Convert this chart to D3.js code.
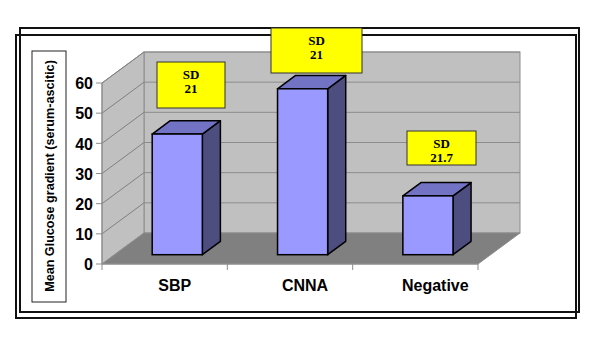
<!DOCTYPE html>
<html>
<head>
<meta charset="utf-8">
<script src="https://d3js.org/d3.v7.min.js"></script>
<style>
  body { margin: 0; background: #fff; }
  svg { display: block; }
</style>
</head>
<body>
<script>
var categories = ["SBP", "CNNA", "Negative"];
var values = [40, 55, 19.5];
var sdLabels = ["21", "21", "21.7"];
var yTicks = [0, 10, 20, 30, 40, 50, 60];
var yTitle = "Mean Glucose gradient (serum-ascitic)";

// where the SD call-outs sit (x, y, w, h)
var sdBoxes = [[157, 62, 68, 46], [271, 28, 91, 45], [407, 131, 69, 34]];

var w = 600, h = 340;
var DX = 42, DY = 31;          // full depth offset
var z0 = 0.3, zd = 0.43;       // bar depth start / depth size

var svg = d3.select("body").append("svg").attr("width", w).attr("height", h);

var x = d3.scaleBand().domain(categories).range([102, 478]).padding(0);
var y = d3.scaleLinear().domain([0, 60]).range([264, 83]);

// frames
svg.append("rect").attr("x", 20).attr("y", 28).attr("width", 559).attr("height", 284)
    .attr("fill", "none").attr("stroke", "#111").attr("stroke-width", 2);
svg.append("rect").attr("x", 16).attr("y", 35).attr("width", 560).attr("height", 283)
    .attr("fill", "none").attr("stroke", "#111").attr("stroke-width", 2);

var x0 = x.range()[0], x1 = x.range()[1];
var ymin = y(0), ymax = y(60);

// back wall
svg.append("rect").attr("x", x0 + DX).attr("y", ymax - DY)
    .attr("width", x1 - x0).attr("height", ymin - ymax)
    .attr("fill", "#c0c0c0").attr("stroke", "#8c8c8c");
// left wall
svg.append("polygon")
    .attr("points", [[x0, ymin], [x0, ymax], [x0 + DX, ymax - DY], [x0 + DX, ymin - DY]].join(" "))
    .attr("fill", "#c0c0c0").attr("stroke", "#8c8c8c");
// floor
svg.append("polygon")
    .attr("points", [[x0, ymin], [x1, ymin], [x1 + DX, ymin - DY], [x0 + DX, ymin - DY]].join(" "))
    .attr("fill", "#808080").attr("stroke", "#8c8c8c");

// gridlines
var grid = yTicks.filter(function(t) { return t > 0; });
svg.selectAll(".gl").data(grid).enter().append("line")
    .attr("x1", x0).attr("y1", function(d) { return y(d); })
    .attr("x2", x0 + DX).attr("y2", function(d) { return y(d) - DY; })
    .attr("stroke", "#808080").attr("stroke-width", 1);
svg.selectAll(".gb").data(grid).enter().append("line")
    .attr("x1", x0 + DX).attr("y1", function(d) { return y(d) - DY; })
    .attr("x2", x1 + DX).attr("y2", function(d) { return y(d) - DY; })
    .attr("stroke", "#8c8c8c").attr("stroke-width", 1);

// y axis
svg.append("line").attr("x1", x0).attr("x2", x0).attr("y1", ymin).attr("y2", ymax)
    .attr("stroke", "#8c8c8c");
svg.selectAll(".yt").data(yTicks).enter().append("line")
    .attr("x1", x0 - 6).attr("x2", x0)
    .attr("y1", function(d) { return y(d); }).attr("y2", function(d) { return y(d); })
    .attr("stroke", "#8c8c8c");
svg.selectAll(".yl").data(yTicks).enter().append("text")
    .attr("x", 93).attr("y", function(d) { return y(d) + 2; })
    .attr("text-anchor", "end").attr("dominant-baseline", "middle")
    .style("font", "bold 16px 'Liberation Sans', Arial, sans-serif")
    .text(function(d) { return d; });

// x axis
svg.append("line").attr("x1", x0).attr("x2", x1).attr("y1", ymin).attr("y2", ymin)
    .attr("stroke", "#8c8c8c");
var xb = categories.map(function(c) { return x(c); }).concat([x1]);
svg.selectAll(".xt").data(xb).enter().append("line")
    .attr("x1", function(d) { return d; }).attr("x2", function(d) { return d; })
    .attr("y1", ymin).attr("y2", ymin + 6)
    .attr("stroke", "#8c8c8c");
svg.selectAll(".xl").data(categories).enter().append("text")
    .attr("x", function(d, i) { return x(d) + x.bandwidth() / 2 + 10 + i * 5; })
    .attr("y", 291)
    .attr("text-anchor", "middle")
    .style("font", "bold 16px 'Liberation Sans', Arial, sans-serif")
    .text(function(d) { return d; });

// bars
var bw = x.bandwidth() * 0.4;
var bdx = zd * DX, bdy = zd * DY;
var bars = svg.selectAll(".bar").data(categories).enter().append("g");
bars.each(function(c, i) {
    var g = d3.select(this);
    var fx0 = x(c) + (x.bandwidth() - bw) / 2 + z0 * DX;
    var fx1 = fx0 + bw;
    var top = y(values[i]) - z0 * DY;
    var bot = y(0) - z0 * DY;
    g.append("polygon")
        .attr("points", [[fx1, top], [fx1 + bdx, top - bdy], [fx1 + bdx, bot - bdy], [fx1, bot]].join(" "))
        .attr("fill", "#4d4d80").attr("stroke", "#000").attr("stroke-width", 1.5).attr("stroke-linejoin", "round");
    g.append("polygon")
        .attr("points", [[fx0, top], [fx1, top], [fx1 + bdx, top - bdy], [fx0 + bdx, top - bdy]].join(" "))
        .attr("fill", "#7373c6").attr("stroke", "#000").attr("stroke-width", 1.5).attr("stroke-linejoin", "round");
    g.append("rect").attr("x", fx0).attr("y", top).attr("width", bw).attr("height", bot - top)
        .attr("fill", "#9999ff").attr("stroke", "#000").attr("stroke-width", 1.5);
});

// y title box
svg.append("rect").attr("x", 32).attr("y", 51).attr("width", 34).attr("height", 251)
    .attr("fill", "#fff").attr("stroke", "#222").attr("stroke-width", 1);
svg.append("text")
    .attr("transform", "translate(53.5,176) rotate(-90)")
    .attr("text-anchor", "middle")
    .style("font", "bold 12.6px 'Liberation Sans', Arial, sans-serif")
    .text(yTitle);

// SD call-outs
var sd = svg.selectAll(".sd").data(sdLabels).enter().append("g");
sd.append("rect")
    .attr("x", function(d, i) { return sdBoxes[i][0]; })
    .attr("y", function(d, i) { return sdBoxes[i][1]; })
    .attr("width", function(d, i) { return sdBoxes[i][2]; })
    .attr("height", function(d, i) { return sdBoxes[i][3]; })
    .attr("fill", "#ffff00").attr("stroke", "#333").attr("stroke-width", 1);
sd.append("text")
    .attr("x", function(d, i) { return sdBoxes[i][0] + sdBoxes[i][2] / 2; })
    .attr("y", function(d, i) { return sdBoxes[i][1] + 17; })
    .attr("text-anchor", "middle")
    .style("font", "bold 13px 'Liberation Serif', 'Times New Roman', serif")
    .text("SD");
sd.append("text")
    .attr("x", function(d, i) { return sdBoxes[i][0] + sdBoxes[i][2] / 2; })
    .attr("y", function(d, i) { return sdBoxes[i][1] + 31; })
    .attr("text-anchor", "middle")
    .style("font", "bold 13px 'Liberation Serif', 'Times New Roman', serif")
    .text(function(d) { return d; });
</script>
</body>
</html>
